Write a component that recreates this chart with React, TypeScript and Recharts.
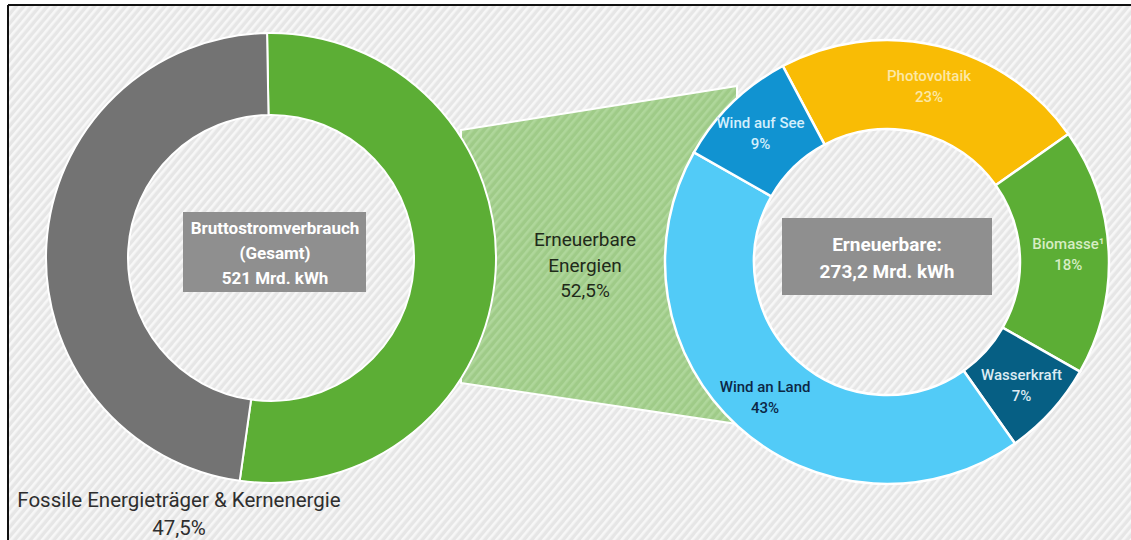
import { PieChart, Pie, Cell } from 'recharts';

// Bruttostromverbrauch: Anteile
const overviewNames = ['Erneuerbare Energien', 'Fossile Energieträger & Kernenergie'];
const overviewShares = [52.5, 47.5];
const overviewColors = ['#5cae35', '#737373'];

// Erneuerbare: Anteile nach Quelle (im Uhrzeigersinn ab Photovoltaik)
const renewableNames = ['Photovoltaik', 'Biomasse¹', 'Wasserkraft', 'Wind an Land', 'Wind auf See'];
const renewableShares = [23, 18, 7, 43, 9];
const renewableColors = ['#f9bc05', '#5cae35', '#065f84', '#52cbf7', '#1193d1'];
const renewableLabelColors = ['#fce8a6', '#d6edc4', '#dcebf3', '#0c2746', '#d3effc'];

const totalLines = ['Bruttostromverbrauch', '(Gesamt)', '521 Mrd. kWh'];
const renewableTotalLines = ['Erneuerbare:', '273,2 Mrd. kWh'];

const W = 1131;
const H = 540;
const FONT = 'Roboto, "Noto Sans", sans-serif';

const L = { cx: 271, cy: 258, inner: 143, outer: 225 };
const R = { cx: 887, cy: 262, inner: 133, outer: 222 };

const overviewData = overviewNames.map((name, i) => ({ name, value: overviewShares[i] }));
const renewableData = renewableNames.map((name, i) => ({ name, value: renewableShares[i] }));

const pct = (v: number) => `${String(v).replace('.', ',')}%`;

const RAD = Math.PI / 180;

function renewableLabel(props: any) {
  const { cx, cy, midAngle, innerRadius, outerRadius, index } = props;
  const r = (innerRadius + outerRadius) / 2 + 4;
  const x = cx + r * Math.cos(-midAngle * RAD);
  const y = cy + r * Math.sin(-midAngle * RAD);
  return (
    <text
      x={x}
      y={y}
      textAnchor="middle"
      fill={renewableLabelColors[index]}
      fontFamily={FONT}
      fontSize={15}
      fontWeight={500}
    >
      <tspan x={x} dy={-4}>{renewableNames[index]}</tspan>
      <tspan x={x} dy={21}>{pct(renewableShares[index])}</tspan>
    </text>
  );
}

export default function App() {
  return (
    <div style={{ position: 'absolute', left: 0, top: 0, width: W, height: H, background: '#fff', overflow: 'hidden' }}>
      {/* hintergrund, rahmen, verbindung */}
      <svg width={W} height={H} style={{ position: 'absolute', left: 0, top: 0 }}>
        <defs>
          <pattern id="hatch" width="6" height="6" patternUnits="userSpaceOnUse" patternTransform="rotate(40)">
            <rect width="6" height="6" fill="#e6e6e6" />
            <rect width="2.6" height="6" fill="#f7f7f7" />
          </pattern>
          <pattern id="hatchGreen" width="6" height="6" patternUnits="userSpaceOnUse" patternTransform="rotate(40)">
            <rect width="6" height="6" fill="#9fcb88" />
            <rect width="2.6" height="6" fill="#afd79b" />
          </pattern>
        </defs>
        <rect x={9} y={6} width={W - 9} height={H - 6} fill="url(#hatch)" />
        <line x1={8} y1={5} x2={W} y2={5} stroke="#111" strokeWidth={2} />
        <line x1={8} y1={5} x2={8} y2={H} stroke="#111" strokeWidth={2} />
        <polygon
          points={`${L.cx + 190},${130} ${R.cx - 150},${86} ${R.cx - 150},${424} ${L.cx + 190},${383}`}
          fill="url(#hatchGreen)"
          stroke="#fff"
          strokeWidth={2}
        />
      </svg>

      <div style={{ position: 'absolute', left: 0, top: 0 }}>
        <PieChart width={W} height={H} margin={{ top: 0, right: 0, bottom: 0, left: 0 }}>
          <Pie
            data={overviewData}
            dataKey="value"
            nameKey="name"
            cx={L.cx}
            cy={L.cy}
            innerRadius={L.inner}
            outerRadius={L.outer}
            startAngle={91}
            endAngle={-269}
            stroke="#fff"
            strokeWidth={2}
            isAnimationActive={false}
          >
            {overviewData.map((d, i) => (
              <Cell key={d.name} fill={overviewColors[i]} />
            ))}
          </Pie>
          <Pie
            data={renewableData}
            dataKey="value"
            nameKey="name"
            cx={R.cx}
            cy={R.cy}
            innerRadius={R.inner}
            outerRadius={R.outer}
            startAngle={118}
            endAngle={-242}
            stroke="#fff"
            strokeWidth={2.5}
            label={renewableLabel}
            labelLine={false}
            isAnimationActive={false}
          >
            {renewableData.map((d, i) => (
              <Cell key={d.name} fill={renewableColors[i]} />
            ))}
          </Pie>
        </PieChart>
      </div>

      {/* beschriftungen */}
      <svg width={W} height={H} style={{ position: 'absolute', left: 0, top: 0, pointerEvents: 'none' }} fontFamily={FONT}>
        <rect x={183} y={212} width={183} height={80} fill="#8f8f8f" />
        {totalLines.map((t, i) => (
          <text key={t} x={275} y={234 + i * 25} textAnchor="middle" fill="#fff" fontSize={17} fontWeight={700}>
            {t}
          </text>
        ))}

        <rect x={782} y={218} width={210} height={77} fill="#8f8f8f" />
        {renewableTotalLines.map((t, i) => (
          <text key={t} x={887} y={251 + i * 27} textAnchor="middle" fill="#fff" fontSize={19} fontWeight={700}>
            {t}
          </text>
        ))}

        <text x={585} y={246} textAnchor="middle" fill="#1f2a1a" fontSize={19}>
          <tspan x={585}>Erneuerbare</tspan>
          <tspan x={585} dy={26}>Energien</tspan>
          <tspan x={585} dy={25}>{pct(overviewShares[0])}</tspan>
        </text>

        <text x={179} y={507} textAnchor="middle" fill="#2e2e2e" fontSize={20.5}>
          <tspan x={179}>{overviewNames[1]}</tspan>
          <tspan x={179} dy={28}>{pct(overviewShares[1])}</tspan>
        </text>
      </svg>
    </div>
  );
}
